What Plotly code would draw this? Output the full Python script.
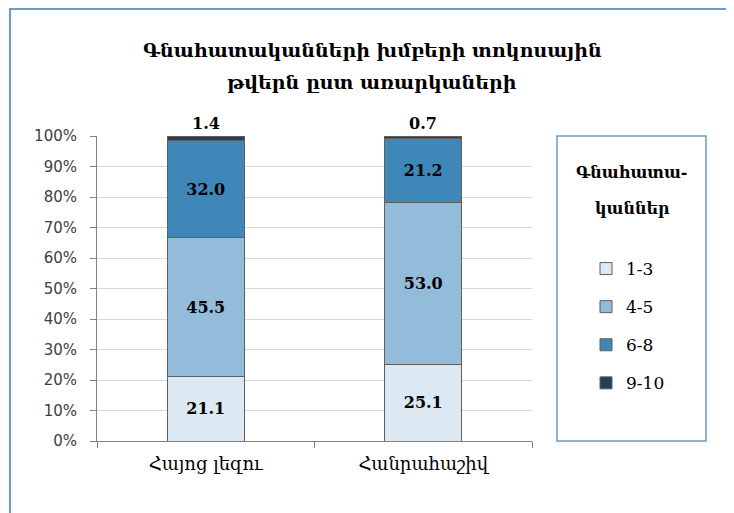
import plotly.graph_objects as go

categories = ["Հայոց լեզու", "Հանրահաշիվ"]
series_names = ["1-3", "4-5", "6-8", "9-10"]
vals_1_3 = [21.1, 25.1]
vals_4_5 = [45.5, 53.0]
vals_6_8 = [32.0, 21.2]
vals_9_10 = [1.4, 0.7]
colors = ["#dce9f3", "#93bcdb", "#3e87b8", "#243f57"]

title_lines = ["Գնահատականների խմբերի տոկոսային", "թվերն ըստ առարկաների"]
legend_title_lines = ["Գնահատա-", "կաններ"]

SERIF = "DejaVu Serif"
SANS = "DejaVu Sans"

# page body has an 8px margin; figure is sized to fit the window
OFF = 8
W, H = 734 - OFF, 513 - OFF
# plot area in screenshot pixels: x 97..532, y 136..441
L = 97 - OFF
T = 136 - OFF
R = W - (532 - OFF)
B = H - (441 - OFF)
pw = W - L - R
ph = H - T - B


def px2x(sx):
    return (sx - OFF - L) / pw


def py2y(sy):
    return (H - B - (sy - OFF)) / ph


fig = go.Figure()
all_vals = [vals_1_3, vals_4_5, vals_6_8, vals_9_10]
for i, (name, vals) in enumerate(zip(series_names, all_vals)):
    show_text = i < 3
    fig.add_trace(go.Bar(
        x=categories, y=vals, name=name,
        marker=dict(color=colors[i], line=dict(color="#5f5f5f", width=1)),
        text=[f"{v:.1f}" for v in vals] if show_text else None,
        textposition="inside" if show_text else "none",
        insidetextanchor="middle",
        textfont=dict(family=SERIF, size=16, color="#000000", weight="bold"),
        legendgroup=name,
        hoverinfo="x+y+name",
    ))

# top labels for the 9-10 segment
for c, a, b, cc, d in zip(categories, vals_1_3, vals_4_5, vals_6_8, vals_9_10):
    fig.add_annotation(x=c, y=a + b + cc + d, xref="x", yref="y",
                       text=f"<b>{d:.1f}</b>", showarrow=False,
                       yanchor="bottom", yshift=1,
                       font=dict(family=SERIF, size=16, color="#000000"))

# title lines
for txt, sy in zip(title_lines, [50, 82]):
    fig.add_annotation(x=px2x(372), y=py2y(sy), xref="paper", yref="paper",
                       text=f"<b>{txt}</b>", showarrow=False,
                       xanchor="center", yanchor="middle",
                       font=dict(family=SERIF, size=19, color="#000000"))

# legend title lines
for txt, sy in zip(legend_title_lines, [172, 208]):
    fig.add_annotation(x=px2x(632), y=py2y(sy), xref="paper", yref="paper",
                       text=f"<b>{txt}</b>", showarrow=False,
                       xanchor="center", yanchor="middle",
                       font=dict(family=SERIF, size=16, color="#000000"))

# legend box
fig.add_shape(type="rect", xref="paper", yref="paper",
              x0=px2x(557), x1=px2x(706), y0=py2y(441), y1=py2y(136),
              line=dict(color="#6e9bc5", width=1.5), fillcolor="rgba(0,0,0,0)")
# outer chart frame
fig.add_shape(type="rect", xref="paper", yref="paper",
              x0=px2x(10), x1=px2x(732), y0=py2y(540), y1=py2y(9),
              line=dict(color="#6e9bc5", width=2), fillcolor="rgba(0,0,0,0)")

fig.update_layout(
    width=W, height=H,
    margin=dict(l=L, r=R, t=T, b=B, autoexpand=False),
    paper_bgcolor="white", plot_bgcolor="white",
    barmode="stack", bargap=0.645,
    showlegend=True,
    legend=dict(x=px2x(586), y=py2y(251), xanchor="left", yanchor="top",
                traceorder="grouped", tracegroupgap=13,
                font=dict(family=SERIF, size=17, color="#000000"),
                bgcolor="rgba(0,0,0,0)", borderwidth=0),
    xaxis=dict(tickfont=dict(family=SERIF, size=18, color="#000000"),
               showline=True, linecolor="#808080", linewidth=1,
               ticks="outside", tickson="boundaries", ticklen=6, tickcolor="#808080",
               ticklabelstandoff=6,
               showgrid=False),
    yaxis=dict(range=[0, 100], dtick=10, ticksuffix="%",
               tickfont=dict(family=SANS, size=15, color="#404040"),
               showline=True, linecolor="#808080", linewidth=1,
               ticks="outside", ticklen=6, tickcolor="#808080",
               ticklabelstandoff=10,
               showgrid=True, gridcolor="#d9d9d9", gridwidth=1,
               zeroline=False),
)

fig.write_html("out.html")
